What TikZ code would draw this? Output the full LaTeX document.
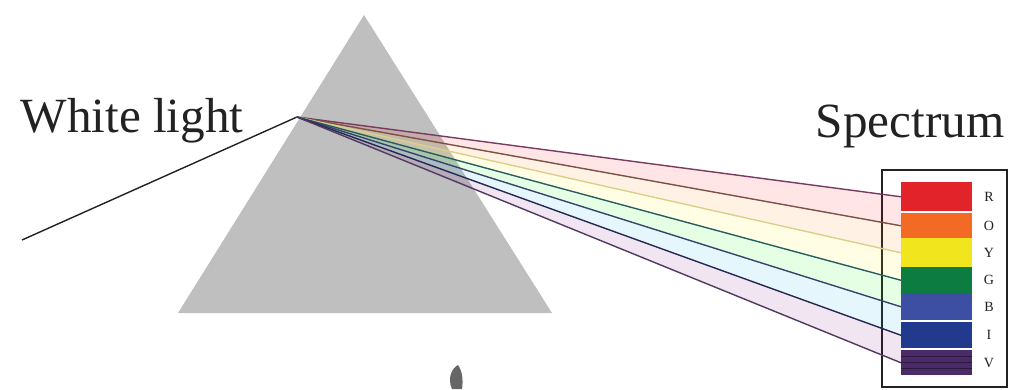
\documentclass[tikz,border=0pt]{standalone}
\usepackage{fontspec}
\setmainfont{Liberation Serif}
\usetikzlibrary{positioning}

\definecolor{prismgray}{HTML}{BFBFBF}
\definecolor{inkgray}{HTML}{222222}
\definecolor{barR}{HTML}{E2242A}
\definecolor{barO}{HTML}{F26A24}
\definecolor{barY}{HTML}{F1E51E}
\definecolor{barG}{HTML}{0C7C40}
\definecolor{barB}{HTML}{3C4FA2}
\definecolor{barI}{HTML}{223A8E}
\definecolor{barV}{HTML}{4A2A68}
\definecolor{rayR}{HTML}{7A3A60}
\definecolor{rayO}{HTML}{7A5246}
\definecolor{rayY}{HTML}{DCCF8A}
\definecolor{rayG}{HTML}{285E60}
\definecolor{rayB}{HTML}{36446C}
\definecolor{rayI}{HTML}{262852}
\definecolor{rayV}{HTML}{503A62}

\tikzset{
  big/.style={font=\fontsize{35}{42}\selectfont, text=inkgray},
  bar/.style={fill=#1, inner sep=0pt, anchor=north west, minimum width=1.775cm},
  letter/.style={font=\fontsize{10}{12}\selectfont, text=inkgray, inner sep=0pt},
  ray/.style={line width=1pt, #1}
}

\begin{document}
\begin{tikzpicture}[x=0.025cm, y=-0.025cm]
  \useasboundingbox (0,0) rectangle (1016,389);

  \fill[prismgray] (364,15) -- (178,313) -- (552,313) -- cycle;
  \coordinate (src) at (22,240);
  \coordinate (in) at (297,117);
  \draw[line width=1pt, inkgray] (src) -- (in);

  \node[big] (white) at (132,121) {White light};
  \node[big] (spec) at (910,126) {Spectrum};

  \draw[line width=0.8pt, inkgray] (882,170) rectangle (1007,387);

  \foreach \n/\t/\h in {R/182/29, O/213/25, Y/238/29, G/267/26, B/293/27, I/322/26, V/350/25} {
    \node[bar=bar\n, minimum height=\h*0.025cm] (bar-\n) at (901,\t) {};
    \node[letter] (lbl-\n) at (989,\t+\h/2) {\n};
  }
  \foreach \y in {356,362,368}
    \draw[barV!60!black, line width=0.4pt] (901,\y) -- (972,\y);

  \foreach \a/\b/\c in {R/O/red, O/Y/orange, Y/G/yellow, G/B/green, B/I/cyan, I/V/violet}
    \fill[\c, opacity=0.1] (in) -- (bar-\a.west) -- (bar-\b.west) -- cycle;

  \foreach \n in {R,O,Y,G,B,I,V}
    \draw[ray=ray\n] (in) -- (bar-\n.west);

  \fill[black!60] (452,389) .. controls (447,378) and (452,368) .. (458,365)
    .. controls (463,372) and (463,382) .. (462,389) -- cycle;
\end{tikzpicture}
\end{document}
